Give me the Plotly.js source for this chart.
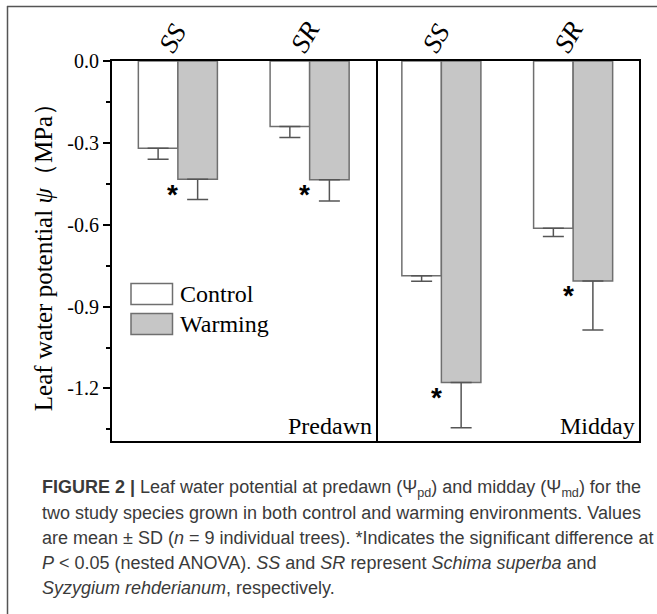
<!DOCTYPE html>
<html><head><meta charset="utf-8">
<script src="https://cdn.plot.ly/plotly-3.0.1.min.js"></script>
<style>html,body{margin:0;padding:0;background:#fff;overflow:hidden;} #chart{width:657px;height:614px;}</style>
</head><body><div id="chart"></div>
<script>
// ---- data ----
const categories = ['SS', 'SR'];
const panelNames = ['Predawn', 'Midday'];
const seriesNames = ['Control', 'Warming'];
const predawnControl = [-0.32, -0.24];
const predawnControlSD = [0.04, 0.04];
const predawnWarming = [-0.433, -0.435];
const predawnWarmingSD = [0.075, 0.078];
const middayControl = [-0.787, -0.613];
const middayControlSD = [0.02, 0.03];
const middayWarming = [-1.178, -0.806];
const middayWarmingSD = [0.166, 0.18];
const predawnSignificant = [true, true];
const middaySignificant = [true, true];
const yTickVals = [0, -0.3, -0.6, -0.9, -1.2];
const yTickText = ['0.0', '-0.3', '-0.6', '-0.9', '-1.2'];
const yMinorVals = [-0.15, -0.45, -0.75, -1.05, -1.35];
const yTitle = 'Leaf water potential <i>ψ</i>（MPa）';
const captionLines = [
  '<b>FIGURE 2 |</b> Leaf water potential at predawn (Ψ<sub>pd</sub>) and midday (Ψ<sub>md</sub>) for the',
  'two study species grown in both control and warming environments. Values',
  'are mean ± SD (<i>n</i> = 9 individual trees). *Indicates the significant difference at',
  '<i>P</i> &lt; 0.05 (nested ANOVA). <i>SS</i> and <i>SR</i> represent <i>Schima superba</i> and',
  '<i>Syzygium rehderianum</i>, respectively.'
];

// ---- geometry / style ----
const W = 657, H = 614;
const M = {l: 112, r: 18, t: 61, b: 173};
const PW = W - M.l - M.r, PH = H - M.t - M.b;
const px = x => (x - M.l) / PW;
const py = y => (H - M.b - y) / PH;
const SERIF = 'Liberation Serif, Times New Roman, serif';
const SANS = 'Liberation Sans, Arial, sans-serif';
const OUTLINE = '#6f6f6f';
const WARM_FILL = '#c6c6c6';
const ERR = '#555555';

function barTrace(xa, ya, vals, sd, fill, name) {
  return {
    type: 'bar', name: name, x: categories, y: vals, xaxis: xa, yaxis: ya,
    marker: {color: fill, line: {color: OUTLINE, width: 1.5}},
    error_y: {type: 'data', symmetric: false, array: sd.map(() => 0), arrayminus: sd,
              color: ERR, thickness: 1.5, width: 10.5},
    showlegend: false, hoverinfo: 'skip'
  };
}

const data = [
  barTrace('x', 'y', predawnControl, predawnControlSD, '#ffffff', seriesNames[0]),
  barTrace('x', 'y', predawnWarming, predawnWarmingSD, WARM_FILL, seriesNames[1]),
  barTrace('x2', 'y2', middayControl, middayControlSD, '#ffffff', seriesNames[0]),
  barTrace('x2', 'y2', middayWarming, middayWarmingSD, WARM_FILL, seriesNames[1])
];

const yRange = [-1.3926, 0];
const xCommon = {
  type: 'category', side: 'top', range: [-0.5, 1.5], tickangle: -60,
  tickfont: {family: SERIF, size: 27, style: 'italic', color: '#000'},
  ticklabelstandoff: -13, ticklabelshift: -16,
  showline: true, mirror: true, linecolor: '#000', linewidth: 2,
  ticks: '', showgrid: false, zeroline: false, fixedrange: true
};

const annotations = [];
function addStars(xa, ya, vals, sig) {
  vals.forEach((v, i) => {
    if (sig[i]) annotations.push({xref: xa, yref: ya, x: categories[i], y: v, xshift: -5, yshift: -15,
      text: '<b>*</b>', showarrow: false, xanchor: 'center', yanchor: 'middle',
      font: {family: SANS, size: 28, color: '#000'}});
  });
}
addStars('x', 'y', predawnWarming, predawnSignificant);
addStars('x2', 'y2', middayWarming, middaySignificant);

[['x domain', 'y domain'], ['x2 domain', 'y2 domain']].forEach((r, i) => {
  annotations.push({xref: r[0], yref: r[1], x: 1, y: 0, xanchor: 'right', yanchor: 'bottom',
    xshift: -2, yshift: 0, text: panelNames[i], showarrow: false,
    font: {family: SERIF, size: 24, color: '#000'}});
});

// legend (drawn manually to match the large swatches)
const legendRows = [294, 324];
const legendFills = ['#ffffff', WARM_FILL];
const shapes = [];
seriesNames.forEach((n, i) => {
  shapes.push({type: 'rect', xref: 'paper', yref: 'paper',
    x0: px(131), x1: px(172.5), y0: py(legendRows[i] - 10.5), y1: py(legendRows[i] + 10.5),
    fillcolor: legendFills[i], line: {color: OUTLINE, width: 1.5}});
  annotations.push({xref: 'paper', yref: 'paper', x: px(178), y: py(legendRows[i]),
    xanchor: 'left', yanchor: 'middle', text: n, showarrow: false,
    font: {family: SERIF, size: 24, color: '#000'}});
});

// figure frame
shapes.push({type: 'line', xref: 'paper', yref: 'paper', x0: px(7), x1: px(657), y0: py(6.5), y1: py(6.5),
  line: {color: '#555', width: 1.5}});
shapes.push({type: 'line', xref: 'paper', yref: 'paper', x0: px(7.5), x1: px(7.5), y0: py(6), y1: py(614),
  line: {color: '#555', width: 1.5}});

// caption
const captionY = [488, 513, 538, 563, 588];
captionLines.forEach((t, i) => {
  annotations.push({xref: 'paper', yref: 'paper', x: px(40), y: py(captionY[i]),
    xanchor: 'left', yanchor: 'middle', text: t, showarrow: false, align: 'left',
    font: {family: SANS, size: 18, color: '#3a3a3a'}});
});

const layout = {
  width: W, height: H, margin: M, paper_bgcolor: '#fff', plot_bgcolor: '#fff',
  barmode: 'group', bargap: 0.4, bargroupgap: 0, showlegend: false,
  xaxis: Object.assign({}, xCommon, {domain: [0, 0.5], anchor: 'y'}),
  xaxis2: Object.assign({}, xCommon, {domain: [0.5, 1], anchor: 'y2'}),
  yaxis: {
    domain: [0, 1], anchor: 'x', range: yRange, tickmode: 'array', tickvals: yTickVals, ticktext: yTickText,
    ticks: 'outside', ticklen: 7, tickwidth: 2, tickcolor: '#000',
    minor: {tickmode: 'array', tickvals: yMinorVals, ticks: 'outside', ticklen: 4, tickwidth: 2, tickcolor: '#000'},
    showline: true, mirror: true, linecolor: '#000', linewidth: 2,
    tickfont: {family: SERIF, size: 20, color: '#000'},
    title: {text: yTitle, font: {family: SERIF, size: 25, color: '#000'}, standoff: 8},
    showgrid: false, zeroline: false, fixedrange: true
  },
  yaxis2: {
    domain: [0, 1], anchor: 'x2', side: 'right', range: yRange, matches: 'y', ticks: '', showticklabels: false,
    showline: true, mirror: false, linecolor: '#000', linewidth: 2,
    showgrid: false, zeroline: false, fixedrange: true
  },
  shapes: shapes, annotations: annotations
};

Plotly.newPlot('chart', data, layout, {displayModeBar: false, staticPlot: true});
</script>
</body></html>
